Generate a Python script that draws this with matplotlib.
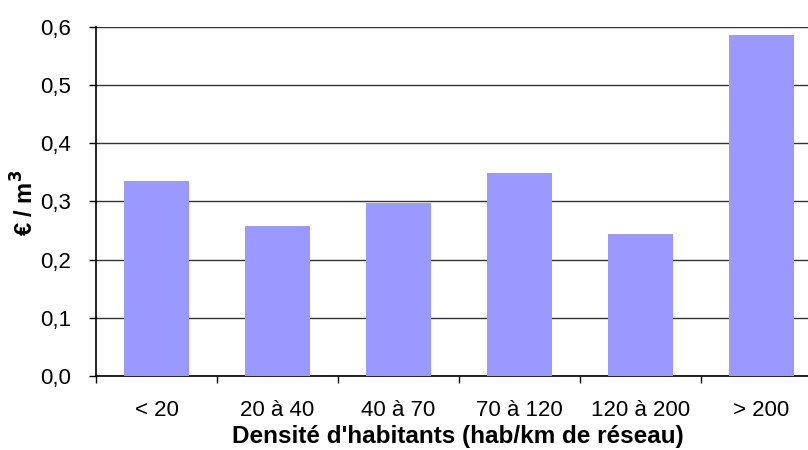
import matplotlib
matplotlib.use("Agg")
import matplotlib.pyplot as plt

categories = ["< 20", "20 à 40", "40 à 70", "70 à 120", "120 à 200", "> 200"]
values = [0.335, 0.258, 0.298, 0.349, 0.244, 0.586]
yticks = [0.0, 0.1, 0.2, 0.3, 0.4, 0.5, 0.6]
ytick_labels = ["0,0", "0,1", "0,2", "0,3", "0,4", "0,5", "0,6"]

plt.rcParams['font.family'] = ['Liberation Sans', 'DejaVu Sans']

W, H = 808, 450
fig = plt.figure(figsize=(W / 100, H / 100), dpi=100)
left, right, top, bottom = 96, 822, 26.7, 376
ax = fig.add_axes([left / W, 1 - bottom / H, (right - left) / W, (bottom - top) / H])

x = list(range(len(categories)))
ax.bar(x, values, width=0.54, color="#9999FF", zorder=3)

ax.set_xlim(-0.5, len(categories) - 0.5)
ax.set_ylim(0, 0.6)
ax.set_yticks(yticks)
ax.set_yticklabels(ytick_labels, fontsize=16)
ax.yaxis.grid(True, color="#333333", linewidth=1.0, zorder=1)
ax.set_axisbelow(True)

ax.set_xticks(x)
ax.set_xticklabels(categories, fontsize=16)
ax.tick_params(axis="x", length=0, pad=17)
ax.set_xticks([i - 0.5 for i in range(len(categories) + 1)], minor=True)
ax.tick_params(axis="x", which="minor", length=5, width=1, color="black", direction="out")
ax.tick_params(axis="y", length=5, width=1, direction="out", pad=13)

for s in ["top", "right"]:
    ax.spines[s].set_visible(False)
ax.spines["left"].set_linewidth(1.2)
ax.spines["bottom"].set_linewidth(1.2)

fig.text(458 / W, 1 - 437 / H, "Densité d'habitants (hab/km de réseau)", fontsize=17.5,
         fontweight="bold", ha="center", va="center")
fig.text(25 / W, 1 - 203 / H, "€ / m$^\\mathbf{3}$", fontsize=17, fontweight="bold",
         rotation=90, ha="center", va="center")

fig.savefig("out.png", dpi=100)
